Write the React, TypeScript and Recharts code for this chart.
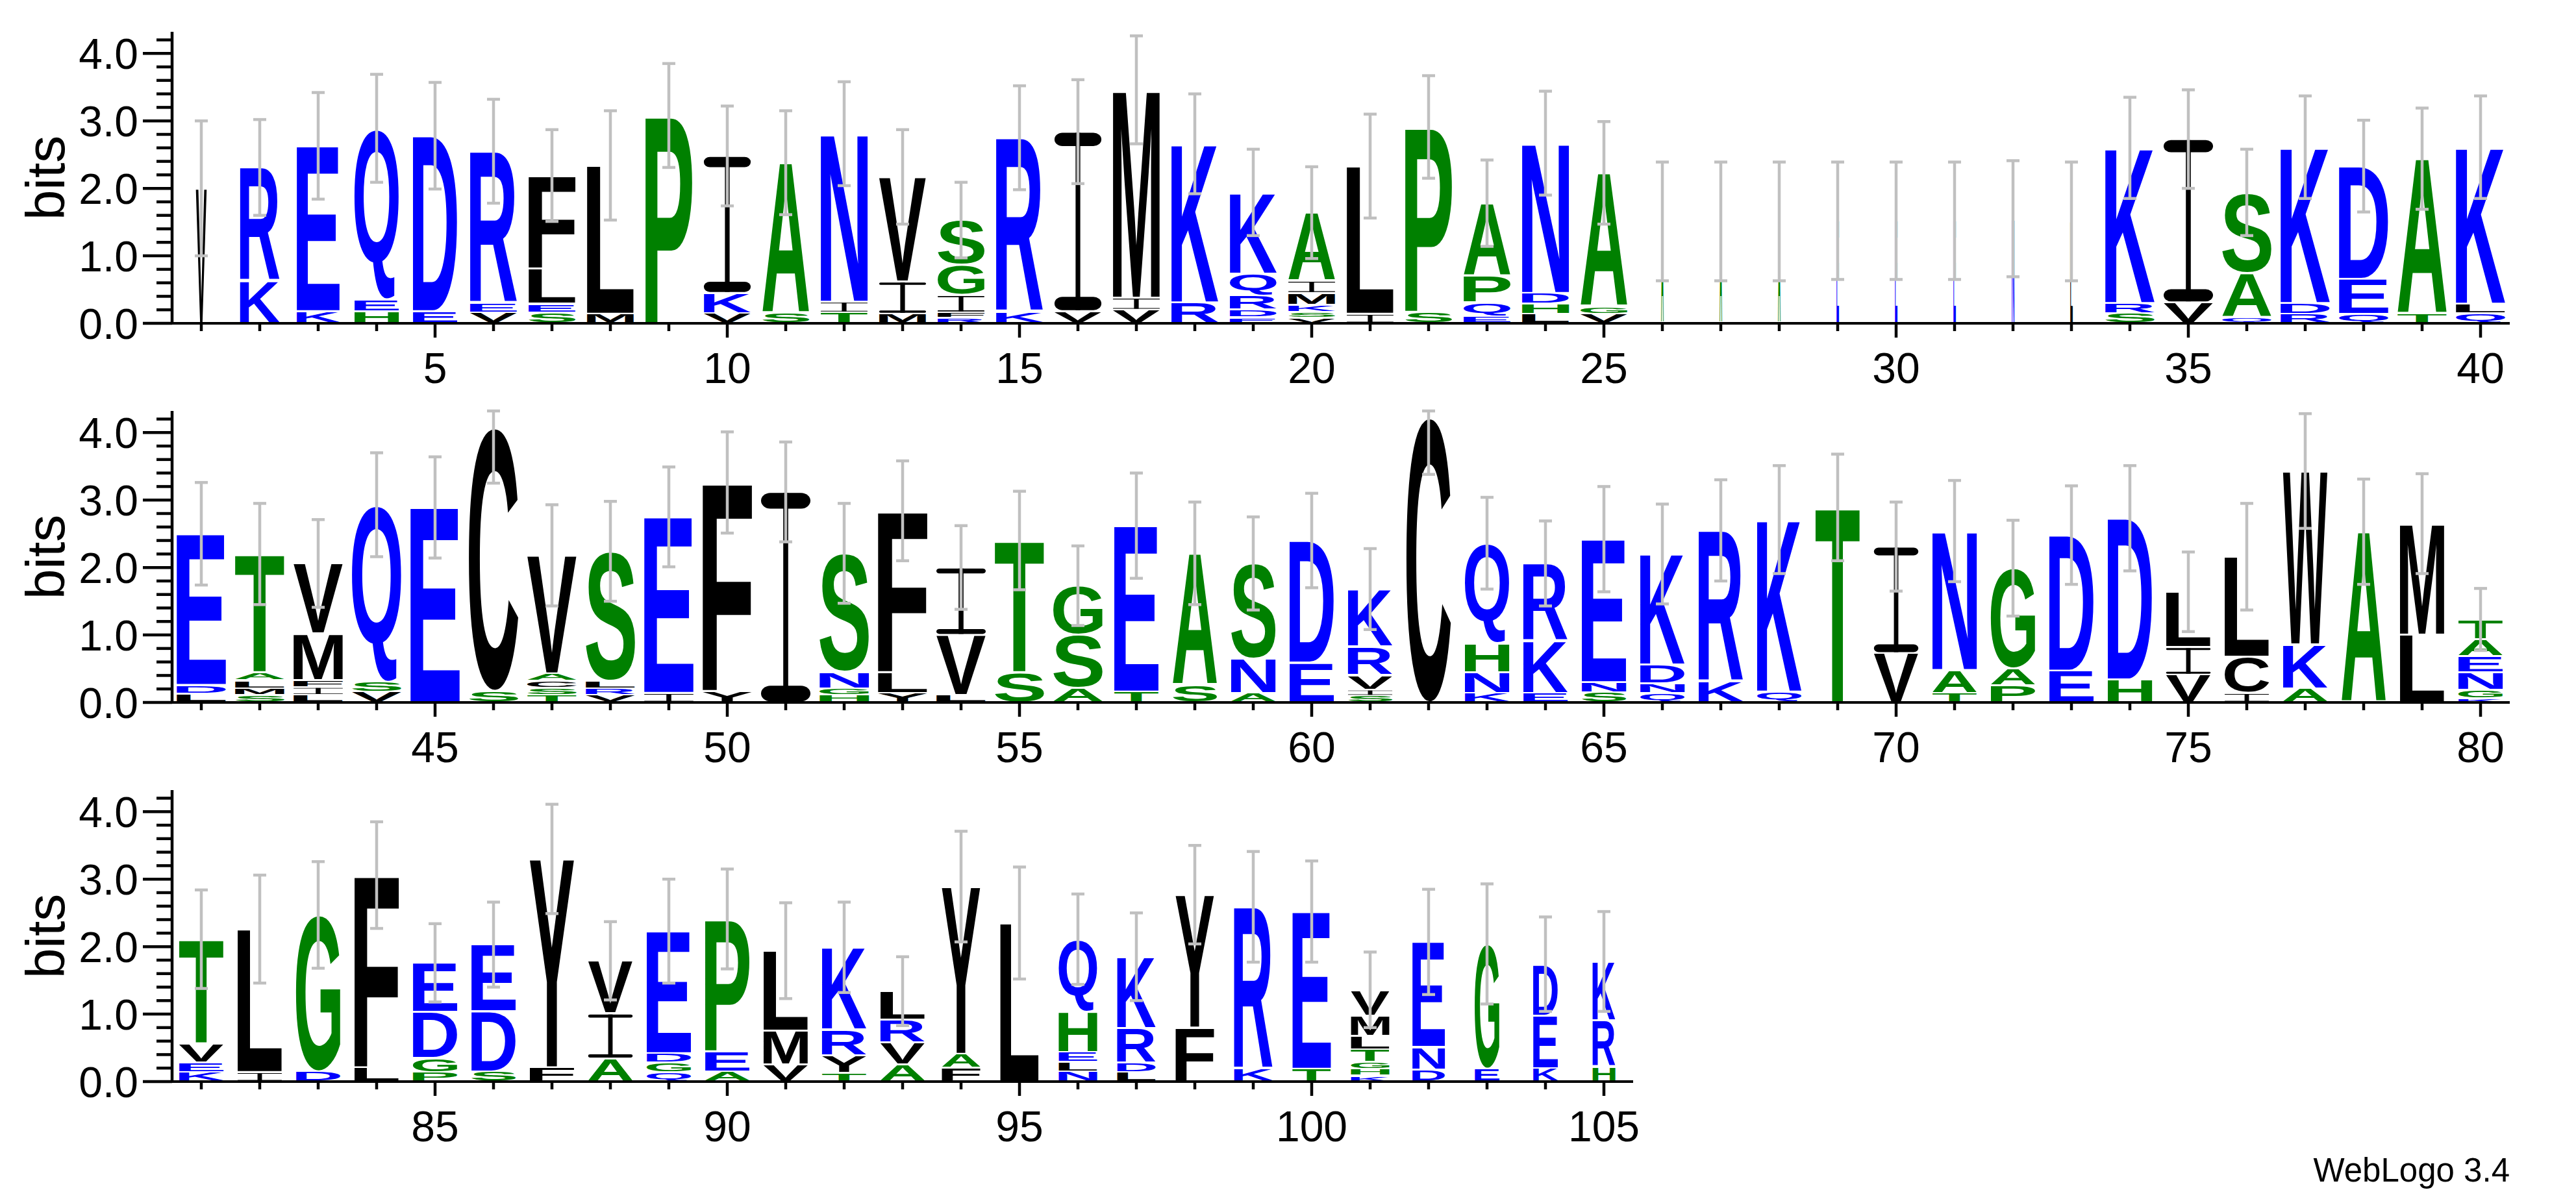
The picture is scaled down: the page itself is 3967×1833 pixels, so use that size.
import { BarChart, Bar, XAxis, YAxis } from "recharts"

// sequence logo, 105 positions, stacks listed bottom -> top as letter+bits
const STACKS = [
  "V2.00", "K0.63 R1.68", "K0.18 E2.45", "H0.18 E0.18 Q2.53", "E0.18 D2.60",
  "V0.16 E0.14 R2.25", "S0.16 E0.13 L0.52 F1.38", "M0.14 L2.20", "P3.08", "V0.15 K0.30 I2.03",
  "S0.15 A2.23", "T0.16 I0.16 N2.49", "M0.14 I0.48 V1.55", "R0.08 F0.08 I0.26 G0.45 S0.66", "K0.17 R2.58",
  "V0.18 I2.66", "V0.20 I0.18 M3.08", "R0.31 K2.35", "E0.09 D0.11 R0.21 Q0.33 K1.20", "V0.08 S0.09 K0.10 M0.18 I0.18 A1.01",
  "I0.14 L2.19", "S0.17 P2.74", "E0.10 Q0.21 P0.40 A1.07", "L0.14 H0.15 D0.16 N2.22", "V0.14 G0.11 A1.98",
  "A1.51", "A1.51", "A1.51", "E1.52", "E1.52",
  "E1.52", "N1.55", "L1.51", "S0.15 R0.15 K2.30", "V0.31 I2.42",
  "Q0.10 A0.65 S1.19", "R0.14 D0.16 K2.31", "Q0.14 E0.52 D1.67", "T0.14 A2.30", "Q0.15 L0.14 K2.32",
  "L0.13 D0.13 E2.24", "S0.11 M0.10 L0.12 A0.12 T1.75", "L0.11 I0.12 F0.10 M0.69 V1.04", "V0.16 S0.15 Q2.62", "E2.89",
  "S0.17 C3.90", "T0.11 S0.10 C0.11 A0.11 V1.75", "V0.11 R0.10 L0.11 S1.92", "I0.14 E2.61", "Y0.17 F3.09",
  "I3.12", "H0.11 G0.10 N0.24 S1.76", "Y0.14 L0.31 F2.39", "L0.11 V0.89 I1.00", "S0.45 T1.95",
  "A0.21 S0.79 G0.73", "T0.16 E2.46", "S0.26 A1.95", "A0.14 N0.51 S1.41", "E0.59 D1.81",
  "S0.10 I0.09 V0.22 R0.42 K0.85", "C4.22", "K0.14 N0.31 H0.43 Q1.48", "E0.14 K0.77 R1.15", "S0.15 N0.15 E2.12",
  "Q0.14 N0.14 D0.28 K1.64", "K0.31 R2.24", "Q0.16 K2.55", "T2.89", "V0.73 I1.58",
  "T0.14 A0.34 N2.06", "P0.25 A0.25 G1.49", "E0.47 D2.01", "H0.34 D2.39", "V0.41 I0.41 L0.82",
  "I0.14 C0.54 L1.48", "A0.21 K0.65 W2.57", "A2.53", "L1.00 M1.65", "K0.06 G0.13 N0.26 E0.24 A0.25 T0.29",
  "K0.14 E0.14 V0.28 T1.55", "I0.14 L2.12", "D0.15 G2.32", "L0.21 F2.85", "P0.14 G0.21 D0.68 E0.73",
  "S0.15 D0.89 E0.99", "F0.21 Y3.09", "A0.34 I0.67 V0.78", "Q0.14 G0.14 D0.14 E1.81", "A0.15 E0.30 P1.96",
  "V0.25 M0.50 L1.19", "T0.13 Y0.26 R0.38 K1.22", "A0.25 V0.33 R0.34 L0.42", "F0.20 A0.21 Y2.48", "L2.35",
  "N0.15 L0.14 E0.15 H0.60 Q1.07", "L0.14 D0.14 R0.51 K1.06", "F0.80 Y1.97", "K0.19 R2.40", "T0.19 E2.33",
  "K0.09 H0.10 G0.10 T0.19 L0.20 M0.30 V0.38", "D0.18 N0.33 E1.56", "E0.19 G1.85", "K0.20 E0.78 D0.76", "H0.22 R0.69 K0.87",
]

// half-width of the error bars, bits
const ERRORS = [
  1.0, 0.71, 0.79, 0.8, 0.79, 0.77, 0.68, 0.81, 0.77, 0.74,
  0.77, 0.77, 0.7, 0.56, 0.77, 0.77, 0.8, 0.74, 0.64, 0.68,
  0.77, 0.76, 0.64, 0.77, 0.76, 0.88, 0.88, 0.88, 0.87, 0.87,
  0.87, 0.86, 0.88, 0.75, 0.73, 0.64, 0.76, 0.68, 0.75, 0.76,
  0.76, 0.75, 0.65, 0.77, 0.75, 0.82, 0.75, 0.74, 0.74, 0.75,
  0.74, 0.74, 0.74, 0.62, 0.73, 0.59, 0.78, 0.76, 0.69, 0.7,
  0.6, 0.84, 0.68, 0.63, 0.78, 0.74, 0.75, 0.8, 0.79, 0.66,
  0.75, 0.71, 0.73, 0.78, 0.59, 0.79, 0.85, 0.78, 0.74, 0.46,
  0.73, 0.8, 0.79, 0.79, 0.58, 0.63, 0.81, 0.58, 0.77, 0.74,
  0.71, 0.67, 0.51, 0.82, 0.83, 0.67, 0.65, 0.73, 0.82, 0.75,
  0.56, 0.78, 0.89, 0.7, 0.74,
]

// fraction of non-gap residues (scales the stack width)
const OCCUPANCY = [
  0.22, 0.8, 0.87, 0.9, 0.9, 0.95, 0.95, 0.95, 0.95, 0.95,
  0.95, 0.95, 0.95, 0.95, 0.95, 0.95, 0.95, 0.95, 0.95, 0.95,
  0.95, 0.95, 0.95, 0.95, 0.95, 0.05, 0.05, 0.05, 0.05, 0.05,
  0.05, 0.05, 0.05, 1.0, 1.0, 1.0, 1.0, 1.0, 1.0, 1.0,
  1.0, 1.0, 1.0, 1.0, 1.0, 1.0, 1.0, 1.0, 1.0, 1.0,
  1.0, 1.0, 1.0, 1.0, 1.0, 1.0, 0.9, 0.9, 0.9, 0.9,
  0.9, 0.9, 0.9, 0.9, 0.9, 0.9, 0.9, 0.9, 0.9, 0.9,
  0.9, 0.9, 0.9, 0.9, 0.9, 0.9, 0.9, 0.9, 0.9, 0.9,
  0.9, 0.9, 0.9, 0.9, 0.9, 0.9, 0.9, 0.9, 0.9, 0.9,
  0.9, 0.9, 0.9, 0.78, 0.78, 0.78, 0.78, 0.78, 0.78, 0.78,
  0.78, 0.66, 0.5, 0.5, 0.46,
]

const ROWS = [
  { first: 1, last: 40 },
  { first: 41, last: 80 },
  { first: 81, last: 105 },
]

const Y_MAX = 4.32
const Y_TICKS = [0, 0.2, 0.4, 0.6, 0.8, 1, 1.2, 1.4, 1.6, 1.8, 2, 2.2, 2.4, 2.6, 2.8, 3, 3.2, 3.4, 3.6, 3.8, 4, 4.2]

const FONT = "'Liberation Sans', Arial, Helvetica, sans-serif"
const HYDROPHILIC = "RKDENQ"
const NEUTRAL = "SGHTAP"
const ERR_GRAY = "#c0c0c0"
const ROW_H = 584
const CHART_H = 620
const PLOT_LEFT = 265
const SLOT = 90

function colorOf(ch: string) {
  if (HYDROPHILIC.includes(ch)) return "#0000ff"
  if (NEUTRAL.includes(ch)) return "#008000"
  return "#000000"
}

type Seg = { ch: string; bits: number }
type Pos = { pos: number; stack: Seg[]; total: number; err: number; occ: number }

const ALL: Pos[] = STACKS.map((s, i) => {
  const stack = s.split(" ").map(t => ({ ch: t[0], bits: parseFloat(t.slice(1)) }))
  return {
    pos: i + 1,
    stack,
    total: stack.reduce((a, b) => a + b.bits, 0),
    err: ERRORS[i],
    occ: OCCUPANCY[i],
  }
})

// ink box of each glyph, so a letter can be stretched to fill its slot
const GLYPH_PX = 200
const glyphCache = new Map<string, { l: number; r: number; a: number; d: number }>()
function glyphBox(ch: string) {
  const hit = glyphCache.get(ch)
  if (hit) return hit
  let m = { l: 0, r: 0.7 * GLYPH_PX, a: 0.716 * GLYPH_PX, d: 0 }
  const ctx = document.createElement("canvas").getContext("2d")
  if (ctx) {
    ctx.font = `bold ${GLYPH_PX}px ${FONT}`
    const t = ctx.measureText(ch)
    m = { l: t.actualBoundingBoxLeft, r: t.actualBoundingBoxRight, a: t.actualBoundingBoxAscent, d: t.actualBoundingBoxDescent }
  }
  glyphCache.set(ch, m)
  return m
}

function Letter({ ch, x, y, w, h }: { ch: string; x: number; y: number; w: number; h: number }) {
  if (!(h > 0) || !(w > 0)) return null
  const fill = colorOf(ch)
  if (ch === "I") {
    // weblogo draws I with full-width bars
    const bar = Math.max(h * 0.075, 0.6)
    const stem = Math.max(w * 0.1, 0.6)
    const r = Math.min(bar * 0.6, w / 2)
    return (
      <g fill={fill}>
        <rect x={x} y={y} width={w} height={bar} rx={r} ry={bar / 2} />
        <rect x={x + (w - stem) / 2} y={y} width={stem} height={h} />
        <rect x={x} y={y + h - bar} width={w} height={bar} rx={r} ry={bar / 2} />
      </g>
    )
  }
  const g = glyphBox(ch)
  const sx = w / (g.l + g.r)
  const sy = h / (g.a + g.d)
  return (
    <text
      transform={`translate(${x},${y}) scale(${sx},${sy})`}
      x={g.l} y={g.a}
      fontFamily={FONT} fontWeight={700} fontSize={GLYPH_PX} fill={fill}
    >
      {ch}
    </text>
  )
}

function LogoStack(props: any) {
  const { x, y, width, height, payload } = props
  if (!payload || !(height > 0)) return null
  const perBit = height / payload.total
  const cx = x + width / 2
  const w = width * payload.occ
  let base = y + height
  const letters = payload.stack.map((s: Seg, i: number) => {
    const slot = s.bits * perBit
    const top = base - slot
    const pad = Math.min(1.6, slot * 0.15)
    base = top
    return <Letter key={i} ch={s.ch} x={cx - w / 2} y={top + pad} w={w} h={slot - 2 * pad} />
  })
  const up = Math.min(payload.err, Y_MAX - payload.total) * perBit
  const down = payload.err * perBit
  return (
    <g>
      {letters}
      <line x1={cx} x2={cx} y1={y - up} y2={y + down} stroke={ERR_GRAY} strokeWidth={4.5} />
      <rect x={cx - 10} y={y - up - 2.25} width={20} height={4.5} fill={ERR_GRAY} />
      <rect x={cx - 10} y={y + down - 2.25} width={20} height={4.5} fill={ERR_GRAY} />
    </g>
  )
}

function XTick({ x, y, payload }: any) {
  const v = Number(payload.value)
  const major = v % 5 === 0
  return (
    <g>
      <line x1={x} x2={x} y1={y} y2={y + (major ? 22 : 12)} stroke="#000" strokeWidth={4.5} />
      {major && (
        <text x={x} y={y + 92} textAnchor="middle" fontSize={66} fontFamily={FONT} fill="#000">{v}</text>
      )}
    </g>
  )
}

function YTick({ x, y, payload }: any) {
  const v = Number(payload.value)
  const major = Math.abs(v - Math.round(v)) < 1e-6
  return (
    <g>
      <line x1={x - (major ? 45 : 24)} x2={x} y1={y} y2={y} stroke="#000" strokeWidth={4.5} />
      {major && (
        <text x={x - 52} y={y + 24} textAnchor="end" fontSize={66} fontFamily={FONT} fill="#000">{v.toFixed(1)}</text>
      )}
    </g>
  )
}

function LogoRow({ first, last, top }: { first: number; last: number; top: number }) {
  const data = ALL.filter(d => d.pos >= first && d.pos <= last)
  return (
    <div style={{ position: "absolute", left: 0, top }}>
      <BarChart
        width={PLOT_LEFT + data.length * SLOT + 30}
        height={CHART_H}
        data={data}
        margin={{ top: 49, right: 30, bottom: 0, left: 0 }}
        barSize={76}
      >
        <XAxis
          dataKey="pos" type="category" interval={0} height={CHART_H - 49 - 449}
          tickSize={0} tickMargin={0} tickLine={false}
          axisLine={{ stroke: "#000", strokeWidth: 4 }}
          tick={(p: any) => <XTick {...p} />}
        />
        <YAxis
          type="number" domain={[0, Y_MAX]} ticks={Y_TICKS} interval={0} width={PLOT_LEFT}
          tickSize={0} tickMargin={0} tickLine={false}
          axisLine={{ stroke: "#000", strokeWidth: 4.5 }}
          tick={(p: any) => <YTick {...p} />}
        />
        <Bar dataKey="total" isAnimationActive={false} shape={(p: any) => <LogoStack {...p} />} />
      </BarChart>
    </div>
  )
}

export default function App() {
  return (
    <div style={{ position: "absolute", left: 0, top: 0, width: 3967, height: 1833, background: "#fff" }}>
      {ROWS.map((r, i) => (
        <LogoRow key={i} first={r.first} last={r.last} top={i * ROW_H} />
      ))}
      <svg width={3967} height={1833} style={{ position: "absolute", left: 0, top: 0, pointerEvents: "none" }}>
        {ROWS.map((_, i) => {
          const cy = 274 + i * ROW_H
          return (
            <text key={i} x={70} y={cy} transform={`rotate(-90 70 ${cy})`} textAnchor="middle"
              dominantBaseline="central" fontSize={84} fontFamily={FONT} fill="#000">
              bits
            </text>
          )
        })}
        <text x={3865} y={1820} textAnchor="end" fontSize={51} fontFamily={FONT} fill="#000">WebLogo 3.4</text>
      </svg>
    </div>
  )
}
